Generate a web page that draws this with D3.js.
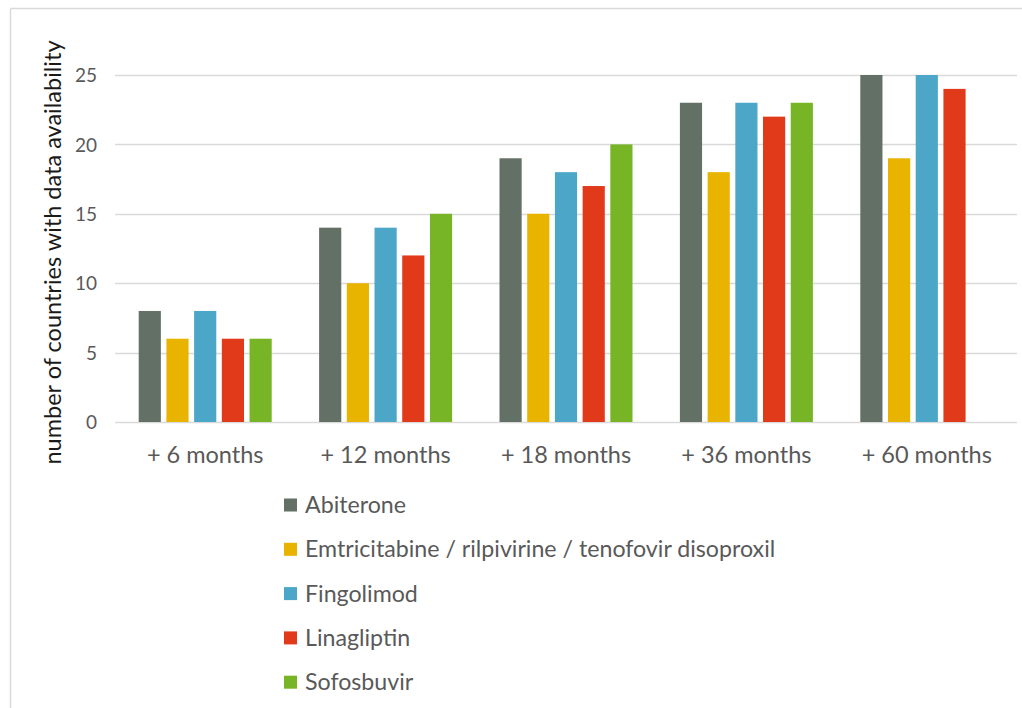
<!DOCTYPE html>
<html>
<head>
<meta charset="utf-8">
<script src="https://cdn.jsdelivr.net/npm/d3@7"></script>
<style>
  html, body { margin: 0; padding: 0; background: #fff; }
  svg { display: block; }
  text { font-family: Lato, "Open Sans", sans-serif; }
</style>
</head>
<body>
<svg id="chart" width="1022" height="708"></svg>
<script>
// Periods after market launch
const periods = ["+ 6 months", "+ 12 months", "+ 18 months", "+ 36 months", "+ 60 months"];
// Medicines shown as series
const medicines = ["Abiterone", "Emtricitabine / rilpivirine / tenofovir disoproxil", "Fingolimod", "Linagliptin", "Sofosbuvir"];
const colors = ["#637066", "#E8B400", "#4BA6C8", "#E03A1A", "#78B526"];
// Number of countries with data, one array per medicine (null = no data)
const abiterone     = [8, 14, 19, 23, 25];
const emtricitabine = [6, 10, 15, 18, 19];
const fingolimod    = [8, 14, 18, 23, 25];
const linagliptin   = [6, 12, 17, 22, 24];
const sofosbuvir    = [6, 15, 20, 23, null];
const yTicks = [0, 5, 10, 15, 20, 25];

const seriesValues = [abiterone, emtricitabine, fingolimod, linagliptin, sofosbuvir];

const svg = d3.select("#chart");
const W = 1022, H = 708;
const FONT = "Lato, 'Open Sans', sans-serif";

// Frame lines (top and left)
svg.append("line").attr("x1", 10.5).attr("x2", W).attr("y1", 8.5).attr("y2", 8.5)
  .attr("stroke", "#d9d9d9").attr("stroke-width", 1.5);
svg.append("line").attr("x1", 10.5).attr("x2", 10.5).attr("y1", 8.5).attr("y2", H)
  .attr("stroke", "#d9d9d9").attr("stroke-width", 1.5);

const plot = { left: 115, right: 1017, top: 75 - 69.4, bottom: 422 };

const x = d3.scaleBand().domain(periods).range([plot.left, plot.right]).paddingInner(0).paddingOuter(0);
const y = d3.scaleLinear().domain([0, 30]).range([plot.bottom, plot.top]);

// Gridlines
svg.append("g").selectAll("line").data(yTicks).join("line")
  .attr("x1", plot.left).attr("x2", plot.right)
  .attr("y1", d => Math.round(y(d)) + 0.5).attr("y2", d => Math.round(y(d)) + 0.5)
  .attr("stroke", "#d9d9d9").attr("stroke-width", 1.5);

// Y axis tick labels
const yAxis = d3.axisLeft(y).tickValues(yTicks).tickSize(0).tickPadding(0);
const yg = svg.append("g").attr("transform", `translate(97,0)`).call(yAxis);
yg.select(".domain").remove();
yg.selectAll("text").attr("font-size", 19).attr("fill", "#595959")
  .attr("font-family", FONT).attr("dy", "0.35em");

// Bars within each period
const groupWidth = 133;
const xInner = d3.scaleBand().domain(d3.range(medicines.length))
  .range([0, groupWidth]).paddingInner(0.2).paddingOuter(0);

const barData = [];
seriesValues.forEach((vals, si) => {
  vals.forEach((v, pi) => {
    if (v != null) barData.push({ si, period: periods[pi], value: v });
  });
});

svg.append("g").selectAll("rect").data(barData).join("rect")
  .attr("x", d => x(d.period) + x.bandwidth() / 2 - groupWidth / 2 + xInner(d.si))
  .attr("width", xInner.bandwidth())
  .attr("y", d => y(d.value))
  .attr("height", d => y(0) - y(d.value))
  .attr("fill", d => colors[d.si]);

// X axis category labels
const xAxis = d3.axisBottom(x).tickSize(0).tickPadding(0);
const xg = svg.append("g").attr("transform", `translate(0,${plot.bottom + 33})`).call(xAxis);
xg.select(".domain").remove();
xg.selectAll("text").attr("font-size", 23.5).attr("fill", "#595959")
  .attr("font-family", FONT).attr("dy", "0.35em");

// Y axis title
svg.append("text")
  .attr("transform", `translate(61,${(40 + 465) / 2}) rotate(-90)`)
  .attr("text-anchor", "middle")
  .attr("font-size", 23.5)
  .attr("fill", "#1a1a1a")
  .text("number of countries with data availability");

// Legend
const legend = svg.append("g").selectAll("g").data(medicines).join("g")
  .attr("transform", (d, i) => `translate(284,${505 + i * 44.3})`);
legend.append("rect").attr("x", 0).attr("y", -6.5).attr("width", 13).attr("height", 13)
  .attr("fill", (d, i) => colors[i]);
legend.append("text").attr("x", 21).attr("y", 0).attr("dy", "0.35em")
  .attr("font-size", 23.2).attr("fill", "#595959").text(d => d);
</script>
</body>
</html>
